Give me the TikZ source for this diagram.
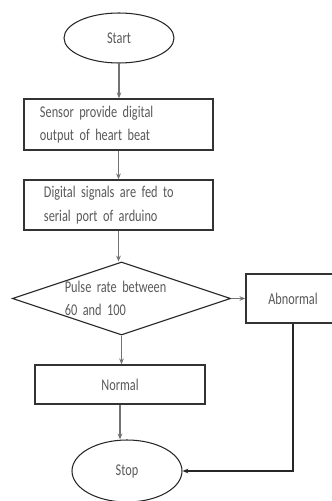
\documentclass[tikz,border=0pt]{standalone}
\usepackage{fontspec}
\setmainfont{Carlito}[FakeStretch=0.75]
\usetikzlibrary{shapes.geometric,arrows.meta}

\tikzset{
  box/.style={draw=black!80, line width=1.2pt, rectangle, text=black!65},
  term/.style={draw=black!85, line width=0.9pt, ellipse, text=black!65, minimum width=3.3cm},
  decision/.style={draw=black!85, line width=0.9pt, diamond, aspect=3, inner sep=0pt,
    minimum width=6.39cm, minimum height=2.19cm, text=black!65, text width=3.4cm, align=left},
  flow/.style={draw=black!55, line width=0.9pt, -{Stealth[length=5pt,width=4pt]}}
}

\begin{document}
\begin{tikzpicture}[x=0.03cm, y=-0.03cm, font=\fontsize{14}{20}\selectfont]
  \useasboundingbox (0,0) rectangle (331,501);

  \node[term, minimum height=1.5cm] (start) at (119,38) {Start};

  \node[box, minimum width=5.67cm, minimum height=1.53cm, inner xsep=0.48cm,
        text width=4.71cm, align=left] (sensor) at (118.5,124.5)
        {Sensor provide digital\\output of heart beat};
  \node[box, minimum width=5.67cm, minimum height=1.5cm, inner xsep=0.6cm,
        text width=4.47cm, align=left] (serial) at (118.5,205)
        {Digital signals are fed to\\serial port of arduino};

  \node[decision] (pulse) at (121.5,298.5) {Pulse rate between\\60 and 100};
  \node[box, minimum width=2.82cm, minimum height=1.47cm] (abnormal) at (293,298.5) {Abnormal};

  \node[box, minimum width=5.1cm, minimum height=1.17cm] (normal) at (120,384.5) {Normal};
  \node[term, minimum height=1.86cm] (stop) at (127,471) {Stop};

  \draw[flow] (start) -- (start |- sensor.north);
  \draw[flow] (sensor) -- (serial);
  \draw[flow] (serial.south) -- (serial.south |- pulse.north);
  \draw[flow] (pulse.east) -- (abnormal.west);
  \draw[flow] (pulse.south) -- (pulse.south |- normal.north);
  \draw[flow] (normal.south) -- (normal.south |- stop.north);
  \draw[flow, draw=black!85] (abnormal.south) |- (stop.east);
\end{tikzpicture}
\end{document}
